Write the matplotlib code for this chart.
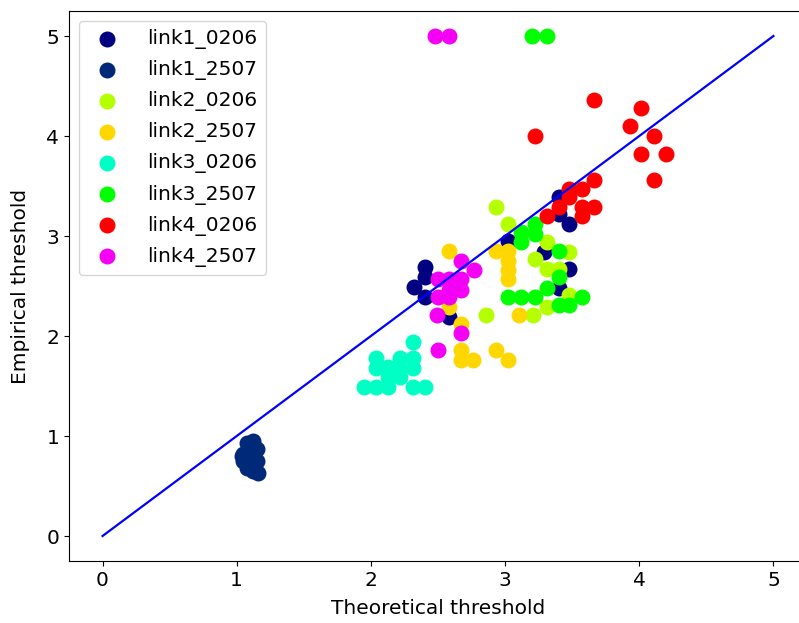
import matplotlib
matplotlib.use("Agg")
import matplotlib.pyplot as plt

# Theoretical vs empirical thresholds for each link / measurement date
labels = ["link1_0206", "link1_2507", "link2_0206", "link2_2507",
          "link3_0206", "link3_2507", "link4_0206", "link4_2507"]
colors = ["#000080", "#00297a", "#b4ff00", "#ffd700",
          "#00ffc4", "#00ff00", "#ff0000", "#f400f4"]

link1_0206_x = [2.40, 2.40, 2.32, 2.40, 2.58, 3.40, 3.40, 3.48, 3.02, 3.29, 3.48, 3.40]
link1_0206_y = [2.69, 2.59, 2.49, 2.39, 2.19, 3.39, 3.22, 3.12, 2.95, 2.84, 2.67, 2.48]

link1_2507_x = [1.05, 1.08, 1.12, 1.15, 1.05, 1.10, 1.15, 1.08, 1.12, 1.16, 1.10, 1.04]
link1_2507_y = [0.82, 0.93, 0.95, 0.87, 0.75, 0.80, 0.75, 0.68, 0.65, 0.63, 0.72, 0.80]

link2_0206_x = [2.93, 3.02, 3.22, 3.31, 3.31, 3.40, 3.48, 3.48, 3.31, 2.86, 3.21]
link2_0206_y = [3.29, 3.12, 2.77, 2.94, 2.67, 2.67, 2.84, 2.41, 2.29, 2.21, 2.21]

link2_2507_x = [2.58, 2.93, 3.02, 3.02, 3.02, 3.02, 2.58, 2.67, 2.67, 2.67, 2.76, 2.93, 3.02, 3.10]
link2_2507_y = [2.85, 2.85, 2.85, 2.75, 2.66, 2.57, 2.29, 2.12, 1.86, 1.76, 1.76, 1.86, 1.76, 2.21]

link3_0206_x = [2.31, 2.04, 2.13, 2.22, 2.31, 2.04, 2.22, 2.31, 2.13, 2.22,
                1.95, 2.04, 2.13, 2.31, 2.40]
link3_0206_y = [1.94, 1.78, 1.69, 1.78, 1.78, 1.68, 1.68, 1.68, 1.59, 1.59,
                1.49, 1.49, 1.49, 1.49, 1.49]

link3_2507_x = [3.20, 3.31, 3.22, 3.12, 3.22, 3.12, 3.40, 3.40, 3.31, 3.02,
                3.12, 3.22, 3.40, 3.48, 3.57]
link3_2507_y = [5.00, 5.00, 3.12, 3.04, 3.02, 2.94, 2.85, 2.59, 2.48, 2.39,
                2.39, 2.39, 2.31, 2.31, 2.39]

link4_0206_x = [3.22, 3.66, 4.01, 3.93, 4.11, 4.01, 4.20, 4.11, 3.66, 3.48,
                3.57, 3.48, 3.57, 3.66, 3.57, 3.40, 3.31]
link4_0206_y = [4.00, 4.36, 4.28, 4.10, 4.00, 3.82, 3.82, 3.56, 3.56, 3.47,
                3.47, 3.39, 3.29, 3.29, 3.20, 3.29, 3.20]

link4_2507_x = [2.48, 2.58, 2.67, 2.77, 2.50, 2.58, 2.67, 2.58, 2.67, 2.50,
                2.58, 2.49, 2.67, 2.50]
link4_2507_y = [5.00, 5.00, 2.75, 2.66, 2.57, 2.57, 2.57, 2.46, 2.46, 2.39,
                2.39, 2.21, 2.03, 1.86]

series_x = [link1_0206_x, link1_2507_x, link2_0206_x, link2_2507_x,
            link3_0206_x, link3_2507_x, link4_0206_x, link4_2507_x]
series_y = [link1_0206_y, link1_2507_y, link2_0206_y, link2_2507_y,
            link3_0206_y, link3_2507_y, link4_0206_y, link4_2507_y]

identity = [0, 5]

plt.rcParams["font.family"] = ["DejaVu Sans"]
plt.rcParams["font.size"] = 14.5

fig = plt.figure(figsize=(7.99, 6.23), dpi=100)
ax = fig.add_axes([69 / 799, 62 / 623, (807 - 69) / 799, (561 - 11) / 623])

for xs, ys, lab, col in zip(series_x, series_y, labels, colors):
    ax.scatter(xs, ys, s=110, color=col, label=lab)

ax.plot(identity, identity, color="#0000ff", lw=1.6)

ax.set_xlim(-0.25, 5.25)
ax.set_ylim(-0.25, 5.25)
ax.set_xticks([0, 1, 2, 3, 4, 5])
ax.set_yticks([0, 1, 2, 3, 4, 5])
ax.set_xlabel("Theoretical threshold", labelpad=7)
ax.set_ylabel("Empirical threshold", labelpad=12)
ax.legend(loc="upper left", labelspacing=0.55, handletextpad=1.0)

fig.savefig("out.png", dpi=100)
